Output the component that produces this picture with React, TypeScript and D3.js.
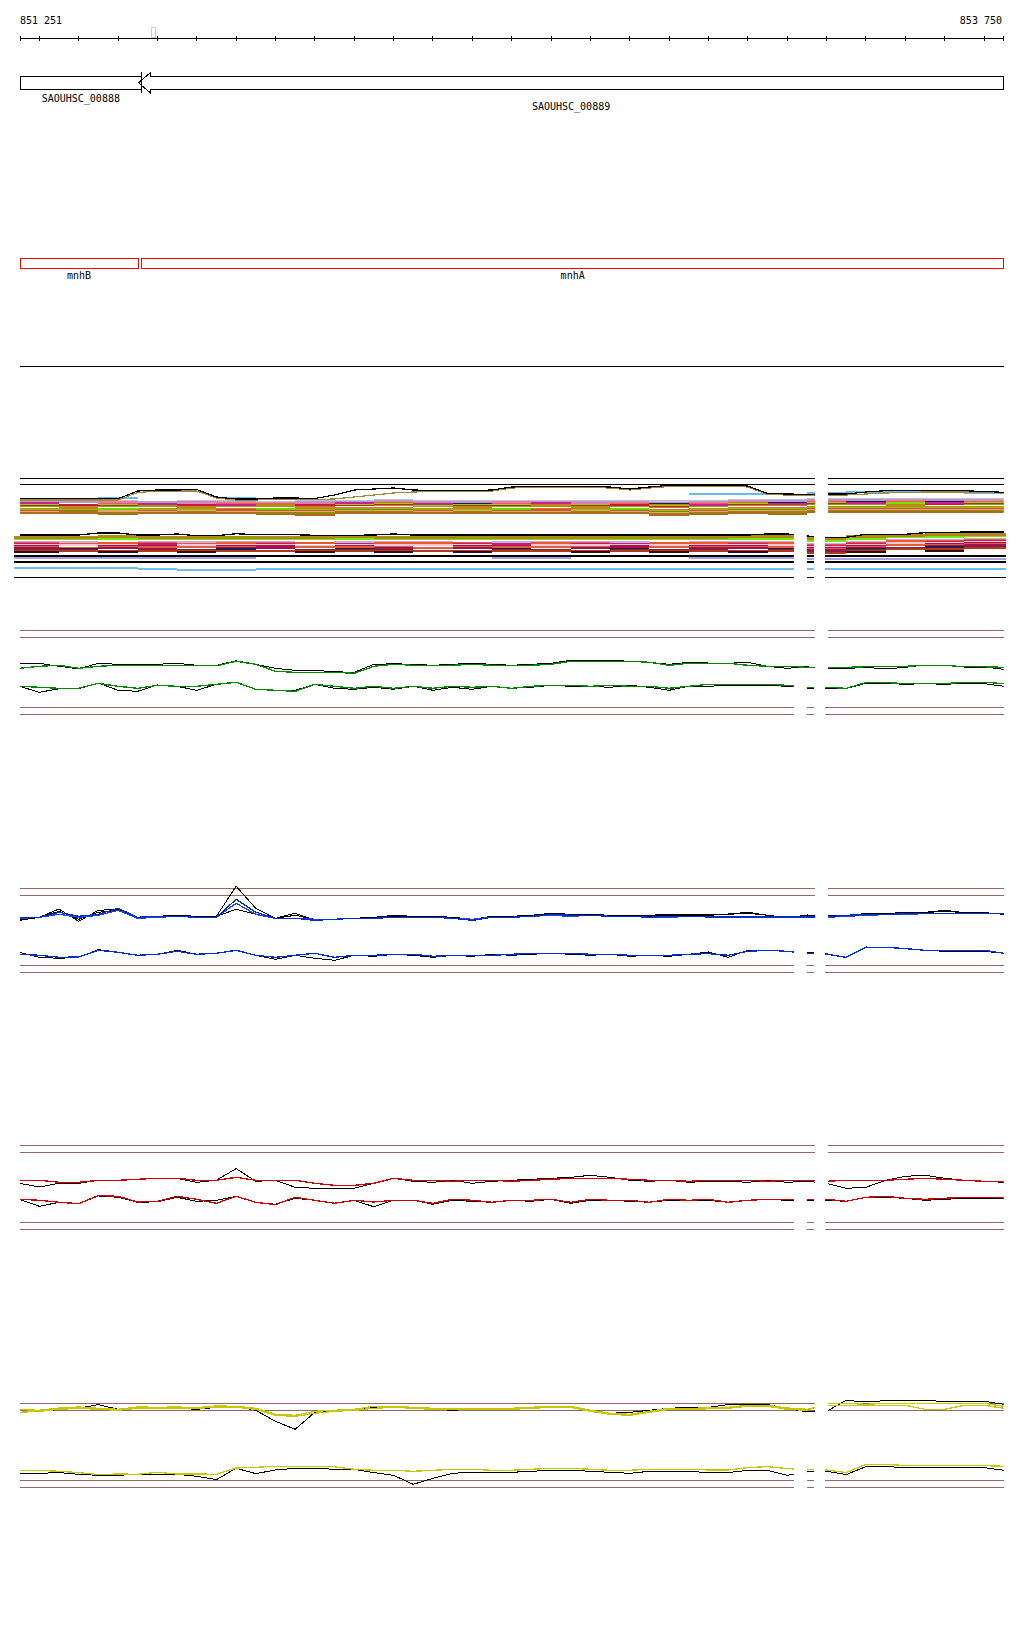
import React from 'react';
import * as d3 from 'd3';

// ---------- coordinates ----------
const VIEW_START = 851251;
const VIEW_END = 853750;
const coordLabels = ['851 251', '853 750'];
const tickPositions = d3.range(851300, 853750, 100);
const markerRange = [851584, 851594];

const genes = [
  { name: 'SAOUHSC_00888', start: 850700, end: 851560, strand: 1, row: 0 },
  { name: 'SAOUHSC_00889', start: 851552, end: 854500, strand: -1, row: 1 },
];
const features = [
  { name: 'mnhB', start: 850800, end: 851551 },
  { name: 'mnhA', start: 851560, end: 854600 },
];

const upperSegments = [[VIEW_START, 853271], [853304, VIEW_END]];
const lowerSegments = [[VIEW_START, 853217], [853250, 853268], [853296, VIEW_END]];
const bandLowerSegments = [[851236, 853217], [853250, 853268], [853296, 853756]];

// 50 bp grid for profiles, 100 bp bins for the stacked band
const GRID = d3.range(51).map((i) => 851250 + i * 50);
const BINS = d3.range(25).map((i) => 851250 + i * 100);

// ---------- stacked band (upper strand) ----------
const bandUpBlack = [19.3,19.3,19.3,19.3,19.3,19.3,27,28,28,28.5,21,19,19,20,20,19.5,23,28,29,30,28,27.5,27.5,27.5,28,31,31.5,31.5,31.5,31.5,31,29,31,32.7,32.7,33,33,32,24.5,24,23.7,24,24,26,27.3,27.3,27.3,27.3,27.3,26.5,25.7];
const bandUpOlive = [18,18,18,18,18,18,25.5,27,27,27,20,18,18,19,19,18.5,19,21,23,25,26,26.5,26.5,26.5,27,30,30.5,30.5,30.5,30.5,30,28,30,31.5,31.5,32,32,31,23.5,23,22.5,23,23,24,25,25.5,26,26,26,25.5,25];
const bandUpLightBlue = [null,null,20.5,null,null,20.5,null,null,null,null,null,null,null,null,null,null,null,24,24,null,25.5,26.5,26.5,26.5,25.5];

const bandUpTracks = [
  { color: '#c8bcd4', values: [17,17,17,16,17,17,16,17,17,18,17,17,17,17,17,17,17,17,18,18,19,19,19,19,19] },
  { color: '#b49ccc', values: [16,16,15,16,15,16,15,16,16,17,16,16,15,16,16,16,15,16,17,17,18,18,18,18,18] },
  { color: '#e07ab8', values: [15,null,16,null,16,15,null,15,null,16,15,null,16,null,15,15,null,15,16,null,17,null,17,17,null] },
  { color: '#1c1c50', values: [null,null,null,14,null,null,14,null,13,null,null,14,null,null,null,null,14,null,null,15,null,16,null,16,null] },
  { color: '#ff5c30', values: [14,13,14,14,13,14,14,13,14,15,14,13,14,14,13,14,13,14,15,14,16,15,16,15,16] },
  { color: '#74e400', values: [13,12,13,12,12,13,12,12,13,14,12,13,13,12,13,12,12,13,14,13,15,14,15,14,15] },
  { color: '#c01c3c', values: [12,13,12,null,13,12,null,13,12,13,null,12,12,null,12,13,11,12,13,null,14,15,null,13,14] },
  { color: '#9c9c00', values: [11,11,11,12,11,11,12,11,11,12,11,11,11,12,11,11,10,11,12,12,13,13,13,12,13] },
  { color: '#ffffff', values: [10,10,10,10,10,10,10,10,11,11,10,10,10,10,10,10,9,10,11,11,12,12,12,12,12] },
  { color: '#ee6a30', values: [9,10,9,9,10,9,9,10,10,10,9,10,9,9,10,9,8,9,10,10,11,11,12,11,11] },
  { color: '#66d800', values: [8,8,9,8,8,8,9,8,9,9,8,8,9,8,8,9,7,8,9,9,10,10,10,10,10] },
  { color: '#b4622a', values: [7,7,7,7,7,8,7,7,8,8,7,7,7,8,7,7,6,7,8,8,9,9,9,9,9] },
  { color: '#f0a070', values: [6,6,7,6,7,6,6,6,7,7,6,7,6,6,7,6,5,6,7,7,8,8,8,8,8] },
  { color: '#8c8c00', values: [5,6,5,5,6,5,5,5,6,6,5,6,5,5,6,5,4,5,6,6,7,7,7,7,7] },
  { color: '#b06820', values: [5,5,4,5,5,5,4,3,5,5,5,5,5,5,5,5,3,4,5,4,6,6,6,6,6] },
  { color: '#c8208c', values: [15,null,null,14,null,13,null,null,15,null,14,null,null,15,null,null,null,13,null,14,null,15,null,15,null] },
];

// ---------- stacked band (lower strand) ----------
const bandLoBlack = [42,42,42,42,44,44,42,42,43,41.3,41.3,43.3,42.3,42.3,42.3,41.7,41.7,41.7,42,43,42,42,42,42,42,42,42,42,42,42,42,42,42,42,42,42,42,42,43,43,41,39.7,39.7,42.7,42.7,42.7,44.3,44.3,45,45,45];

const bandLoTracks = [
  { color: '#a49400', values: [40.5,40.5,41,40.5,40.5,40,40.5,40.5,40.5,40.5,40.5,40,40.5,40.5,40.5,40,40.5,40.5,41,41,39,41,42.5,43,43.5] },
  { color: '#c07830', values: [39,39,39.5,39,39,38.5,39,39,39,39,39,38.5,39,39,39,38.5,39,39,39.5,39.5,37.5,39.5,41,41.5,42] },
  { color: '#70ec00', values: [37.5,37.5,38,37,37.5,37.5,37,37.5,38,37.5,37,37.5,37.5,37,37.5,37.5,37,37.5,38,38,36,38,39.5,40,40.5] },
  { color: '#ffffff', values: [36,36,36,36,36,36,36,36,36,36,36,36,36,36,36,36,36,36,36.5,36.5,34.5,36.5,38,38.5,39] },
  { color: '#c4b0dc', values: [35,35,34.5,35,35,35,35,34.5,35,35,35,34.5,35,35,35,35,34.5,35,35.5,35.5,33.5,35.5,37,37.5,38] },
  { color: '#f05530', values: [34,33.5,34,34,33.5,34,34,34,33.5,34,34,34,33.5,34,34,33.5,34,34,34.5,34.5,32.5,34.5,36,36.5,37] },
  { color: '#c41c84', values: [33,null,32.5,33,null,32.5,33,null,33,32.5,null,33,33,null,33,33,null,32.5,33.5,null,31.5,33.5,null,35.5,36] },
  { color: '#f0c8d8', values: [32,32,32,31.5,32,32,32,31.5,32,32,32,32,31.5,32,32,32,32,32,32.5,32.5,30.5,32.5,34,34.5,35] },
  { color: '#b0103c', values: [31,null,31,31,null,31,31,null,31,30.5,null,31,31,null,30.5,31,null,31,31.5,null,29.5,31.5,null,33.5,34] },
  { color: '#d86040', values: [30,29.5,30,30,30,30,29.5,30,30,30,29.5,30,30,30,30,29.5,30,30,30.5,30.5,28.5,30.5,32,32.5,33] },
  { color: '#9c1060', values: [29,null,29,28.5,null,29,29,null,28.5,29,null,29,28.5,null,29,29,null,29,29.5,null,27.5,29.5,null,31.5,32] },
  { color: '#202048', values: [null,28,null,null,null,28,null,null,28,null,null,null,28,null,null,28,null,null,null,28.5,null,28.5,null,30,null] },
  { color: '#8c2020', values: [27,27,null,27,27,26.5,null,27,27,27,null,26.5,27,27,null,27,27,27,null,27.5,25.5,27.5,29,null,30] },
  { color: '#b03820', values: [26,26,26,26,26,26,26,26,26,26,26,26,26,26,26,26,26,26,26.5,26.5,24.5,26.5,28,28.5,29] },
  { color: '#2c1010', values: [25,null,25,null,25,null,null,25,null,25,null,25,null,null,25,null,25,null,25,null,null,25,null,26,null] },
  { color: '#000000', values: [21,21,21,21,21,21,21,21,21,21,21,21,21,21,21,21,21,21,21,21,21,21,21,21,21] },
  { color: '#a8a0e4', values: [19,19,19,19,19,19,null,null,null,null,null,null,19,19,null,null,null,19,19,19,18,18,18,18,18] },
  { color: '#000000', values: [15,15,15,15,15,15,15,15,15,15,15,15,15,15,15,15,15,15,15,15,15,15,15,15,15] },
  { color: '#70bcf0', values: [9,9,9,8.5,7,7,8.5,8.5,8.5,8.5,8.5,8.5,8.5,8.5,8.5,8.5,8.5,8.5,8.5,8.5,8,8.5,8.5,8.5,8] },
];

// ---------- expression profiles ----------
const greenUp = [42,44,45,42,44,45,45,44.5,45,45,44.5,49,46,39,38,38,38,37,44,46,45,45,45,46,45,45,45,46,49,49,49,49,48,45,47,47,47,45,44,44,43,43,43,43.5,43.5,44,45,45,43.5,43.5,43];
const greenUpBlack = [46.5,47,44,41.5,47,46,46,46,47,45,45,49.5,46,42,40,40,38.5,38,46,46.5,46,45,46,47,46,45,46,47,50,50,50,49,48,46,48,47.3,47,48,44,42,43.5,41.7,41.7,43,41.3,43,45.3,45.3,43.3,43.3,41];
const greenLo = [24,23,22,22,27,24,22,25,24,24,26,28,21,20,19,26,24,22,24,22,24,22,24,23,24,22,24,25,25,24,25,24,24,22,24,26,26,26,26,25,23,23,22,27.7,27.7,26.7,26.7,26.7,28,28,26.7];
const greenLoBlack = [24,18,21.5,21.5,27.3,20,19,25.3,24,20,26,28.3,21,20,20,26,22,21,23,21,24,20,23,21,24,22,23,25,24,24,23,25,23,20,24,24,25,25,25,24,22.3,22.3,21.7,27,27,26,26.7,26,27,26.7,24];

const blueUp = [51,51,56,52,54,60,51,52,52,51,51,69,56,50,50,48,49,50,50,51,51,51,50,48,51,51,52,54,53,53,52,52,51,52,52,51.3,51.3,51.3,51.3,51.3,51.3,51.3,53,53.7,53.7,54.7,54.7,54.7,54.7,54.7,54.7];
const blueUp2 = [50,51,54,51,53,58,50,51,52,51,51,65,54,50,50,49,49,50,50,51,51,51,50,49,51,51,52,53,52,53,52,52,51,51,52,51.3,51.3,51.3,51,51,51,51,52,53,53.7,54,54.7,54.7,54.7,54.7,54.7];
const blueUpBlack = [48,51,59.3,47,58,59,51,52,53,52,52,82,60,50,55,48,49,50,51,53,52,52,51,47.5,52,52,53,55,54,54,53,53,53,54,54,53.7,54.3,56,53,50.3,53.3,53,53,54.7,54.7,56,56,58,55.7,55.7,54];
const blueUpBlack2 = [49,51,57,49,56,58,51,52,52,52,52,59,54,50,53,49,49,50,51,52,52,52,51,49,52,52,53,54,54,54,53,53,52,53,53,53,54,55,53,51,53,53,53,54,54,55,55.7,57,55.7,55.7,54];
const blueLo = [14,13,11,11.3,18,16,13,14,17,14,15,18,13,11,13,15,11,13,13,14,14,12,13,13,13,14,15,15,15,14,14,13,13,13,14,14.7,13,17,18,17,14.7,14.3,11,21,21,19.7,18,18,18,18,15];
const blueLoBlack = [16,11,10,11,18.7,16,13,14,18,14,15,18,13,9,13,10,8,13,12,14,13,11,13,12,14,13,14,15,14,13,14,12,13,12,14,16.3,11,18,18,17,16,14,10.7,21.3,21,19.7,18,17,17,17,15];

const redUp = [45,45,43,43,45,45,46,47,47,45,45,48,45,45,45,42,40,40,42,47,45,45,44,45,45,44,45,46,47,47,47,46,45,45,44,45,45,45,44,45,45,44,45,45,45,46,47,46,45,44,44];
const redUpBlack = [42,38.3,42,42,45,45,46,47,47,43,45,56.7,44,45,38,37,37,37,42,47,44,43,45,42,44,45,46,47,48,50,48,45,44,45,43,44,44,43,45,43,44,42,37,38,45,49,50,47,45,44,43];
const redLo = [26,25,23,21.7,29.7,29,23.3,24,29,26,22,29,23,20.7,28,25,22,25,23.3,25,25,22,26,25,23,25,25,26,23,26,25,25,23,26,25,26,23,25,26,26,26,26,24,28,29,27,26,27,28,28,28];
const redLoBlack = [26,19,23,21.7,29.3,28,23,23.5,28,24,25,29,23,21,27,25,22,25,18.5,25,25,21,25,24,23,25,24,26,22,25,25,24,23,25,25,25,23,25,26,25,25,25,24,28,28,27,25,26,27,27,27];

const yellowUp = [73.7,73,75.3,76.3,75,74,76.3,76,76.3,75.7,77.3,77,75,69,68,72,73,74,77,76.7,76,75,75,75,75,75,76,77,77,73,70,69,72,75,75,75.3,76,78,78,75.3,74,78,78,78,78,78,74,74,78,78,75];
const yellowUp2 = [71,72,74,75,74,73,75,75,75,75,76,76,74,68,67,70,72,73,75,76,75,74,74,74,74,74,75,76,76,72,69,68,71,74,74,74.5,75,77,77,74,73,80,80,79,80,80,80,80,80,80,77];
const yellowUpBlack = [74,72,73.7,75,78.7,74,76,75,75,74,76,77,73,62,54,71,72,74,75.7,76.7,75,74,73,74,75,75,76,77,76,72,70,71,73,75,76,76,78.7,78.7,78.7,75,71.3,72,83,81.3,82.7,82.7,82.7,82,82,82,79];
const yellowLo = [13,13,12,10.7,8.7,9.3,9,11,9.3,9.3,9,15.3,16,17,17,17,16.5,14,13,13,12,13,14,14,13,13,14,15,15,14,13,13,14,14,14,13.3,13.3,15.7,16.7,14.7,13.7,13.3,10.7,19,19,17.7,17.7,17.7,17.7,17.7,17];
const yellowLoBlack = [9.7,10,10.7,9,8,8,9,8.3,9,7,3.7,15,9.7,13.3,15,15,14,14,10.7,8,-1,5,10,11,11,11,12,13,13,12,11,10,12,12,12,10.7,10.7,13,13,8,11.3,12,8.7,16.7,16.7,15.7,15.7,15.7,15.7,15.7,13];

const sections = [
  { up: [greenUpBlack, greenUp], upColors: ['#000', '#008800'], lo: [greenLoBlack, greenLo], loColors: ['#000', '#008800'] },
  { up: [blueUpBlack, blueUpBlack2, blueUp2, blueUp], upColors: ['#000', '#000', '#2244dd', '#0030cc'], lo: [blueLoBlack, blueLo], loColors: ['#000', '#0030cc'] },
  { up: [redUpBlack, redUp], upColors: ['#000', '#cc0000'], lo: [redLoBlack, redLo], loColors: ['#000', '#cc0000'] },
  { up: [yellowUpBlack, yellowUp2, yellowUp], upColors: ['#000', '#c8c800', '#c8c800'], lo: [yellowLoBlack, yellowLo], loColors: ['#000', '#c8c800'] },
];

export default function App() {
  const W = 1024;
  const H = 1640;
  const x = d3.scaleLinear().domain([VIEW_START, VIEW_END]).range([20, 1003.7]);
  const clampS = (v: number) => Math.max(VIEW_START, Math.min(VIEW_END, v));
  const BROWN = '#9a6464';

  const segLines = (segs: number[][], y: number, color: string, key: string) =>
    segs.map((s, i) => (
      <line key={key + i} x1={x(s[0])} x2={x(s[1])} y1={y} y2={y} stroke={color} strokeWidth={1} />
    ));

  const clipRects = (segs: number[][]) =>
    segs.map((s, i) => <rect key={i} x={x(s[0])} y={0} width={x(s[1]) - x(s[0])} height={H} />);

  const stepTrack = (values: (number | null)[], color: string, ys: d3.ScaleLinear<number, number>, key: string) =>
    values.map((v, i) =>
      v == null ? null : (
        <line
          key={key + '-' + i}
          x1={x(i === 0 ? 851200 : BINS[i])}
          x2={x(i === values.length - 1 ? 853800 : BINS[i] + 100)}
          y1={ys(v)}
          y2={ys(v)}
          stroke={color}
          strokeWidth={2}
        />
      )
    );

  const profilePath = (values: number[], ys: d3.ScaleLinear<number, number>) =>
    d3
      .line<number>()
      .x((_, i) => x(GRID[i]))
      .y((d) => ys(d))(values) || '';

  const geneTop = 76.3, geneBot = 89.3, headExtra = 4, headLen = 12.4;
  const featTop = 258.3, featBot = 268.3;

  const upBandY = d3.scaleLinear().domain([0, 40]).range([518, 478]);
  const loBandY = d3.scaleLinear().domain([0, 45]).range([577, 532]);

  const tops = [630.3, 888.3, 1145.3, 1403.3];

  return (
    <svg
      width={W}
      height={H}
      style={{ position: 'absolute', left: 0, top: 0, display: 'block' }}
      shapeRendering="crispEdges"
      fontFamily="'DejaVu Sans Mono', monospace"
      fontSize={10}
    >
      <defs>
        <clipPath id="clipUp">{clipRects(upperSegments)}</clipPath>
        <clipPath id="clipLo">{clipRects(lowerSegments)}</clipPath>
        <clipPath id="clipBandLo">{clipRects(bandLowerSegments)}</clipPath>
      </defs>
      <rect width={W} height={H} fill="#fff" />

      {/* coordinate ruler */}
      <text x={20} y={24} fill="#000">{coordLabels[0]}</text>
      <text x={1002} y={24} fill="#000" textAnchor="end">{coordLabels[1]}</text>
      <line x1={x(VIEW_START)} x2={x(VIEW_END)} y1={38} y2={38} stroke="#000" />
      {[VIEW_START, ...tickPositions, VIEW_END].map((t, i) => (
        <line key={'t' + i} x1={x(t)} x2={x(t)} y1={35.5} y2={40.5} stroke="#000" />
      ))}
      <rect
        x={x(markerRange[0])}
        y={27.5}
        width={x(markerRange[1]) - x(markerRange[0])}
        height={10}
        fill="none"
        stroke="#f4bcb4"
      />

      {/* genes */}
      {genes.map((g) => {
        const xs = x(clampS(g.start));
        const xe = x(clampS(g.end));
        const labelX = (xs + xe) / 2;
        const labelY = g.row === 0 ? 101.5 : 110;
        let shape;
        if (g.strand < 0) {
          const hb = xs + headLen;
          const pts = [
            [xs, (geneTop + geneBot) / 2],
            [hb, geneTop - headExtra],
            [hb, geneTop],
            [xe, geneTop],
            [xe, geneBot],
            [hb, geneBot],
            [hb, geneBot + headExtra],
          ];
          shape = <polygon points={pts.map((p) => p.join(',')).join(' ')} fill="none" stroke="#000" />;
        } else {
          shape = (
            <g>
              <rect x={xs} y={geneTop} width={xe - xs} height={geneBot - geneTop} fill="none" stroke="#000" />
              <line x1={xe} x2={xe} y1={geneTop - headExtra} y2={geneBot + headExtra} stroke="#000" />
            </g>
          );
        }
        return (
          <g key={g.name}>
            {shape}
            <text x={labelX} y={labelY} textAnchor="middle" fill="#000">{g.name}</text>
          </g>
        );
      })}

      {/* features */}
      {features.map((f) => {
        const xs = x(clampS(f.start));
        const xe = x(clampS(f.end));
        return (
          <g key={f.name}>
            <rect x={xs} y={featTop} width={xe - xs} height={featBot - featTop} fill="none" stroke="#ff0000" />
            <text x={(xs + xe) / 2} y={279.3} textAnchor="middle" fill="#000">{f.name}</text>
          </g>
        );
      })}

      <line x1={x(VIEW_START)} x2={x(VIEW_END)} y1={366.3} y2={366.3} stroke="#000" />

      {/* stacked band, upper strand */}
      {segLines(upperSegments, 478.3, '#000', 'bu1')}
      {segLines(upperSegments, 484.3, '#000', 'bu2')}
      <g clipPath="url(#clipUp)">
        {stepTrack(bandUpLightBlue, '#66bbee', upBandY, 'lb')}
        {bandUpTracks.map((t, k) => stepTrack(t.values, t.color, upBandY, 'u' + k))}
        <path d={profilePath(bandUpOlive, upBandY)} fill="none" stroke="#a08838" strokeWidth={1.2} />
        <path d={profilePath(bandUpBlack, upBandY)} fill="none" stroke="#000" strokeWidth={1.2} />
      </g>

      {/* stacked band, lower strand */}
      <g clipPath="url(#clipBandLo)">
        {bandLoTracks.map((t, k) => stepTrack(t.values, t.color, loBandY, 'l' + k))}
        <path d={profilePath(bandLoBlack, loBandY)} fill="none" stroke="#000" strokeWidth={1.3} />
      </g>
      {segLines(bandLowerSegments, 577.3, '#000', 'bl')}

      {/* expression sections */}
      {sections.map((sec, k) => {
        const top = tops[k];
        const ys = d3.scaleLinear().domain([0, 80]).range([top + 80, top]);
        return (
          <g key={'sec' + k}>
            {segLines(upperSegments, top, BROWN, 's' + k + 'a')}
            {segLines(upperSegments, top + 7, BROWN, 's' + k + 'b')}
            {segLines(lowerSegments, top + 77, BROWN, 's' + k + 'c')}
            {segLines(lowerSegments, top + 84, BROWN, 's' + k + 'd')}
            <g clipPath="url(#clipUp)">
              {sec.up.map((vals, j) => (
                <path key={j} d={profilePath(vals, ys)} fill="none" stroke={sec.upColors[j]} strokeWidth={sec.upColors[j] === '#000' ? 1 : 1.3} />
              ))}
            </g>
            <g clipPath="url(#clipLo)">
              {sec.lo.map((vals, j) => (
                <path key={j} d={profilePath(vals, ys)} fill="none" stroke={sec.loColors[j]} strokeWidth={sec.loColors[j] === '#000' ? 1 : 1.3} />
              ))}
            </g>
          </g>
        );
      })}
    </svg>
  );
}
